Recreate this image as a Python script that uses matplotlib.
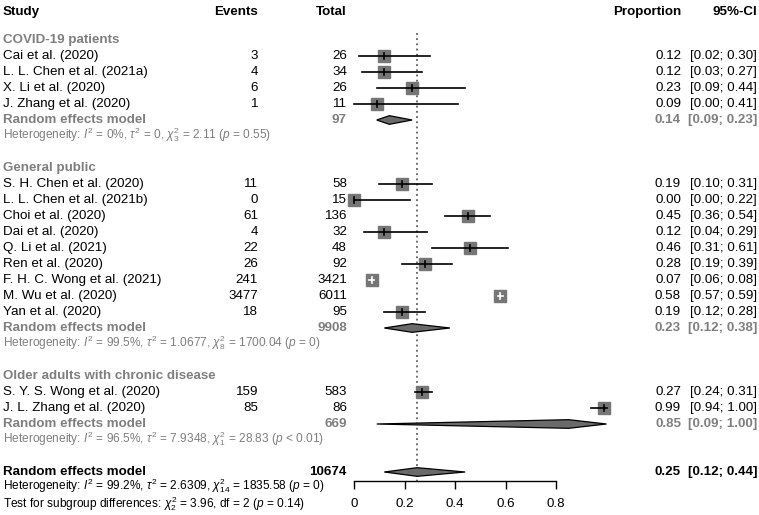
import matplotlib
matplotlib.use('Agg')
import matplotlib.pyplot as plt
from matplotlib import transforms
from matplotlib.patches import Polygon
import numpy as np

plt.rcParams['font.family'] = ['Liberation Sans', 'DejaVu Sans']
plt.rcParams['mathtext.fontset'] = 'custom'
plt.rcParams['mathtext.rm'] = 'Liberation Sans'
plt.rcParams['mathtext.it'] = 'Liberation Sans:italic'
plt.rcParams['mathtext.bf'] = 'Liberation Sans:bold'

# subgroup 1
covid_names = ["Cai et al. (2020)", "L. L. Chen et al. (2021a)", "X. Li et al. (2020)", "J. Zhang et al. (2020)"]
covid_events = [3, 4, 6, 1]
covid_total = [26, 34, 26, 11]
covid_prop = [0.12, 0.12, 0.23, 0.09]
covid_lo = [0.02, 0.03, 0.09, 0.00]
covid_hi = [0.30, 0.27, 0.44, 0.41]
covid_w = [6.6, 6.6, 6.6, 6.0]

# subgroup 2
public_names = ["S. H. Chen et al. (2020)", "L. L. Chen et al. (2021b)", "Choi et al. (2020)",
                "Dai et al. (2020)", "Q. Li et al. (2021)", "Ren et al. (2020)",
                "F. H. C. Wong et al. (2021)", "M. Wu et al. (2020)", "Yan et al. (2020)"]
public_events = [11, 0, 61, 4, 22, 26, 241, 3477, 18]
public_total = [58, 15, 136, 32, 48, 92, 3421, 6011, 95]
public_prop = [0.19, 0.00, 0.45, 0.12, 0.46, 0.28, 0.07, 0.58, 0.19]
public_lo = [0.10, 0.00, 0.36, 0.04, 0.31, 0.19, 0.06, 0.57, 0.12]
public_hi = [0.31, 0.22, 0.54, 0.29, 0.61, 0.39, 0.08, 0.59, 0.28]
public_w = [7.0, 6.6, 7.0, 6.6, 7.0, 7.0, 6.6, 6.6, 7.0]

# subgroup 3
older_names = ["S. Y. S. Wong et al. (2020)", "J. L. Zhang et al. (2020)"]
older_events = [159, 85]
older_total = [583, 86]
older_prop = [0.27, 0.99]
older_lo = [0.24, 0.94]
older_hi = [0.31, 1.00]
older_w = [7.4, 7.0]

group_titles = ["COVID-19 patients", "General public", "Older adults with chronic disease"]
group_n = [97, 9908, 669]
group_est = [0.14, 0.23, 0.85]
group_lo = [0.09, 0.12, 0.09]
group_hi = [0.23, 0.38, 1.00]
group_het = [r'Heterogeneity: $I^2$ = 0%, $\tau^2$ = 0, $\chi^2_3$ = 2.11 ($p$ = 0.55)',
             r'Heterogeneity: $I^2$ = 99.5%, $\tau^2$ = 1.0677, $\chi^2_8$ = 1700.04 ($p$ = 0)',
             r'Heterogeneity: $I^2$ = 96.5%, $\tau^2$ = 7.9348, $\chi^2_1$ = 28.83 ($p$ < 0.01)']

overall_n = 10674
overall_est = 0.25
overall_lo = 0.12
overall_hi = 0.44
overall_het = r'Heterogeneity: $I^2$ = 99.2%, $\tau^2$ = 2.6309, $\chi^2_{14}$ = 1835.58 ($p$ = 0)'
subgroup_test = r'Test for subgroup differences: $\chi^2_2$ = 3.96, df = 2 ($p$ = 0.14)'

xticks = [0, 0.2, 0.4, 0.6, 0.8]
xticklabels = ["0", "0.2", "0.4", "0.6", "0.8"]

groups = [
    (covid_names, covid_events, covid_total, covid_prop, covid_lo, covid_hi, covid_w),
    (public_names, public_events, public_total, public_prop, public_lo, public_hi, public_w),
    (older_names, older_events, older_total, older_prop, older_lo, older_hi, older_w),
]

W, H = 759, 515
fig = plt.figure(figsize=(W / 100, H / 100), dpi=100)
ax = fig.add_axes([354 / W, (H - 481) / H, 252.5 / W, 481 / H])
ax.set_xlim(0, 1)
ax.set_ylim(29.5625, -0.5)
ax.patch.set_alpha(0)

tr = transforms.blended_transform_factory(fig.transFigure, ax.transData)
X_STUDY, X_EV, X_TOT, X_PROP, X_CI = 3 / W, 258 / W, 347 / W, 681 / W, 757 / W

GREY = '#7f7f7f'
SQ = '#767676'
DIA = '#6a6a6a'
FS = 9.6
FS_HET = 8.6

# header
hy = 0.25
for x, s, ha in [(X_STUDY, 'Study', 'left'), (X_EV, 'Events', 'right'), (X_TOT, 'Total', 'right'),
                 (X_PROP, 'Proportion', 'right'), (X_CI, '95%-CI', 'right')]:
    ax.text(x, hy, s, transform=tr, ha=ha, va='center', fontsize=FS, fontweight='bold')

px_per_unit = 252.5
def draw_diamond(y, est, lo, hi):
    h = 0.27
    poly = Polygon([[lo, y], [est, y - h], [hi, y], [est, y + h]], closed=True,
                   facecolor=DIA, edgecolor='black', linewidth=0.9, clip_on=False, zorder=3)
    ax.add_patch(poly)

def ci_text(y, est, lo, hi, color, weight):
    ax.text(X_PROP, y, f'{est:.2f}', transform=tr, ha='right', va='center', fontsize=FS,
            color=color, fontweight=weight)
    ax.text(X_CI, y, f'[{lo:.2f}; {hi:.2f}]', transform=tr, ha='right', va='center', fontsize=FS,
            color=color, fontweight=weight)

row = 2
for g, (names, ev, tot, prop, lo, hi, w) in enumerate(groups):
    ax.text(X_STUDY, row, group_titles[g], transform=tr, ha='left', va='center', fontsize=FS,
            color=GREY, fontweight='bold')
    row += 1
    for i in range(len(names)):
        ax.text(X_STUDY, row, names[i], transform=tr, ha='left', va='center', fontsize=FS)
        ax.text(X_EV, row, str(ev[i]), transform=tr, ha='right', va='center', fontsize=FS)
        ax.text(X_TOT, row, str(tot[i]), transform=tr, ha='right', va='center', fontsize=FS)
        ms = 8.8 * np.sqrt(w[i] / 6.67)
        ax.plot(prop[i], row, marker='s', ms=ms, color=SQ, mec=SQ, ls='none', clip_on=False, zorder=2)
        inside = (hi[i] - lo[i]) * px_per_unit < ms * 100 / 72
        lc = 'white' if inside else 'black'
        ax.plot([lo[i], hi[i]], [row, row], color=lc, lw=1.2, clip_on=False, zorder=3)
        ax.plot([prop[i], prop[i]], [row - 0.17, row + 0.17], color=lc, lw=1.2, clip_on=False, zorder=3)
        ci_text(row, prop[i], lo[i], hi[i], 'black', 'normal')
        row += 1
    ax.text(X_STUDY, row, 'Random effects model', transform=tr, ha='left', va='center', fontsize=FS,
            color=GREY, fontweight='bold')
    ax.text(X_TOT, row, str(group_n[g]), transform=tr, ha='right', va='center', fontsize=FS,
            color=GREY, fontweight='bold')
    draw_diamond(row, group_est[g], group_lo[g], group_hi[g])
    ci_text(row, group_est[g], group_lo[g], group_hi[g], GREY, 'bold')
    row += 1
    ax.text(X_STUDY, row - 0.1, group_het[g], transform=tr, ha='left', va='center', fontsize=FS_HET,
            color=GREY)
    row += 2

# overall
ax.text(X_STUDY, row, 'Random effects model', transform=tr, ha='left', va='center', fontsize=FS,
        fontweight='bold')
ax.text(X_TOT, row, str(overall_n), transform=tr, ha='right', va='center', fontsize=FS, fontweight='bold')
draw_diamond(row, overall_est, overall_lo, overall_hi)
ci_text(row, overall_est, overall_lo, overall_hi, 'black', 'bold')
ax.text(X_STUDY, row + 0.88, overall_het, transform=tr, ha='left', va='center', fontsize=FS_HET)
ax.text(X_STUDY, row + 1.98, subgroup_test, transform=tr, ha='left', va='center', fontsize=FS_HET)

# reference line at overall estimate
ax.plot([overall_est, overall_est], [1.55, ax.get_ylim()[0]], color='#444444', lw=1.1,
        ls=(0, (1.2, 2.2)), zorder=1)

for s in ['top', 'left', 'right']:
    ax.spines[s].set_visible(False)
ax.spines['bottom'].set_bounds(0, 0.8)
ax.spines['bottom'].set_linewidth(1.0)
ax.set_yticks([])
ax.set_xticks(xticks)
ax.set_xticklabels(xticklabels, fontsize=FS)
ax.tick_params(axis='x', length=6, width=1.0, pad=6)

fig.savefig('out.png', dpi=100)
